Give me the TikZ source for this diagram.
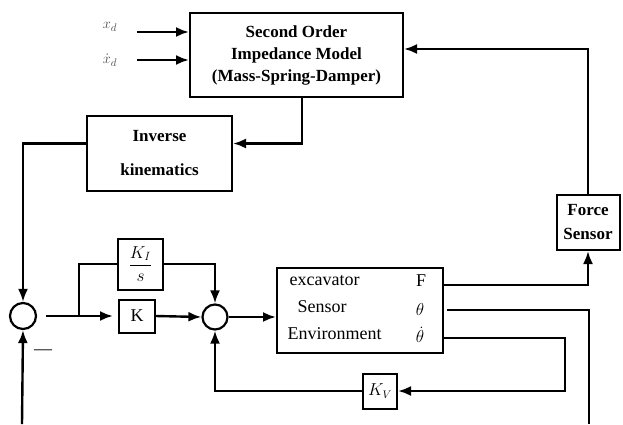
\documentclass[tikz,border=0pt]{standalone}
\usepackage{fontspec}
\setmainfont{Liberation Serif}
\usepackage{amsmath}
\usetikzlibrary{arrows.meta}
\usetikzlibrary{calc}

\tikzset{
  block/.style={draw, rectangle, line width=2pt, align=center, inner sep=0pt},
  junction/.style={draw, circle, line width=2.2pt, minimum size=25pt, inner sep=0pt},
  boldtext/.style={font=\fontsize{17}{#1}\selectfont\bfseries},
  symbol/.style={inner sep=0.5pt},
}

\begin{document}
\begin{tikzpicture}[x=1pt, y=-1pt, >={Latex[length=13pt,width=10pt]}, line width=2.4pt,
    every node/.style={font=\fontsize{18}{21}\selectfont}]
      \useasboundingbox (0,0) rectangle (623,424);

      % blocks
      \node [block, name=impedance, minimum width=213pt, minimum height=84pt,
        boldtext=22] at (296.5,55) {Second Order\\Impedance Model\\(Mass-Spring-Damper)};
      \node [block, name=invkin, minimum width=145pt, minimum height=75pt,
        boldtext=34] at (159.5,153.5) {Inverse\\kinematics};
      \node [block, name=forcesensor, minimum width=63pt, minimum height=55pt,
        boldtext=24] at (588,222.5) {Force\\Sensor};
      \node [block, name=plant, minimum width=166pt, minimum height=85pt] at (360,310.5) {};
      \node [block, name=integral, minimum width=45pt, minimum height=51pt] at (140.5,264) {$\dfrac{K_I}{s}$};
      \node [block, name=gain, minimum width=36pt, minimum height=33pt] at (137,316) {K};
      \node [block, name=velgain, minimum width=34pt, minimum height=35pt,
        font=\fontsize{16}{18}\selectfont] at (380,391) {$K_V$};

      % summing points
      \node [junction, name=sumA, minimum size=26pt] at (23,316) {};
      \node [junction, name=sumB] at (215,317) {};

      % plant labels
      \node [anchor=west, name=plantname] at (285,281) {excavator};
      \node [anchor=west, name=plantsensor] at (293,307) {Sensor};
      \node [anchor=west, name=plantenv] at (283,334) {Environment};
      \node [symbol, name=outF] at (421,281) {F};
      \node [symbol, name=outTheta] at (420,309) {$\theta$};
      \node [symbol, name=outDot] at (420,335) {$\dot{\theta}$};

      % reference inputs
      \node [symbol, name=xd, text=black!70, font=\fontsize{15}{18}\selectfont] at (110,27) {$x_d$};
      \node [symbol, name=xddot, text=black!70, font=\fontsize{15}{18}\selectfont] at (110,60) {$\dot{x}_d$};
      \draw [->, shorten <=18pt] ($(xd.east)+(0,5)$) -- ($(xd.east -| impedance.west)+(0,5)$);
      \draw [->, shorten <=18pt] ($(xddot.east)+(0,0)$) -- (xddot.east -| impedance.west);

      % outer loop
      \draw [->] (forcesensor.north) |- ($(impedance.east)+(0,-6)$);
      \draw [->] ($(impedance.south)+(5.5,0)$) |- ($(invkin.east)+(0,-10)$);
      \draw [->] ($(invkin.west)+(0,-10)$) -| (sumA.north);
      \coordinate (feedin) at (22,424);
      \draw [->] (feedin) -- (sumA.south);
      \node [name=minus] at (43,352) {—};

      % controller
      \coordinate (branch) at ($(sumA.east)+(42,0)$);
      \draw [->, shorten <=9pt, shorten >=5pt] (sumA.east) -- (gain.west);
      \draw (branch) |- (integral.west);
      \draw [->] (integral.east) -| (sumB.north);
      \draw [->] (gain.east) -- (sumB.west);
      \draw [->] (sumB.east) -- (sumB.east -| plant.west);

      % plant outputs
      \coordinate (portF) at ($(plant.north east)+(0,18)$);
      \coordinate (portTheta) at ($(plant.north east)+(3,43)$);
      \coordinate (portDot) at ($(plant.south east)+(0,-16)$);
      \coordinate (thetaend) at (589,424);
      \draw [->] (portF) -| (forcesensor.south);
      \draw (portTheta) -| (thetaend);
      \draw [->] (portDot) -- ++(121,0) |- (velgain.east);
      \draw [->] (velgain.west) -| (sumB.south);
\end{tikzpicture}
\end{document}
